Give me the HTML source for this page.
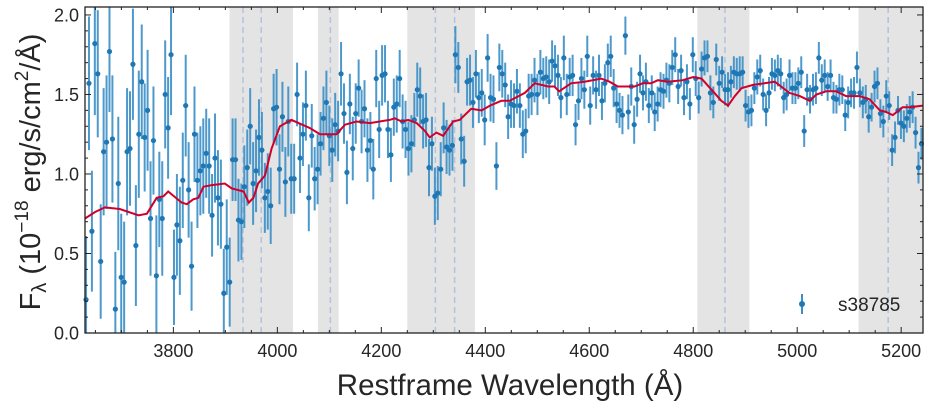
<!DOCTYPE html>
<html><head><meta charset="utf-8">
<style>
html,body{margin:0;padding:0;background:#fff;}
svg{display:block;font-family:"Liberation Sans",sans-serif;}
</style></head>
<body>
<svg id="chart" width="930" height="409" viewBox="0 0 930 409" xmlns="http://www.w3.org/2000/svg">
<g id="bands"></g>
<g id="lines"></g>
<g id="errs"></g>
<g id="dots"></g>
<path id="model" fill="none" stroke="#d0002a" stroke-width="2"/>
<g id="ticks"></g>
<rect x="85" y="7" width="838" height="326" fill="none" stroke="#222" stroke-width="1.3"/>
<g id="xlabels" font-size="18" fill="#262626" text-anchor="middle"></g>
<g id="ylabels" font-size="18" fill="#262626" text-anchor="end"></g>
<text x="510" y="395" font-size="29.5" fill="#262626" text-anchor="middle">Restframe Wavelength (Å)</text>
<text transform="translate(40,172) rotate(-90)" font-size="29" fill="#262626" text-anchor="middle">F<tspan font-size="20" dy="6">λ</tspan><tspan dy="-6"> (10</tspan><tspan font-size="19" dy="-12">−18</tspan><tspan dy="12"> erg/s/cm</tspan><tspan font-size="19" dy="-12">2</tspan><tspan dy="12">/Å)</tspan></text>
<g>
<line x1="802" y1="294" x2="802" y2="314" stroke="#3a8fc7" stroke-width="2"/>
<circle cx="802" cy="304" r="3" fill="#1f77b4"/>
<text x="838" y="311" font-size="19" fill="#262626">s38785</text>
</g>
</svg>
<script>
const xMin=3630, xMax=5242, yMin=0, yMax=2.05;
const waveStart=3632, waveEnd=5239;
const flux=[0.21,1.57,0.64,1.82,1.63,0.45,1.14,1.20,1.77,1.22,0.15,0.94,0.35,0.32,1.14,1.16,1.69,0.55,1.25,1.58,1.23,1.40,0.72,1.21,0.36,0.84,0.72,1.50,1.29,1.75,0.35,0.68,0.58,0.96,1.43,0.90,0.42,1.25,0.96,1.02,1.05,1.13,1.05,0.74,1.10,0.85,0.81,0.25,0.54,0.32,1.09,1.09,0.71,0.70,0.92,1.04,1.30,0.94,1.02,1.23,1.15,0.85,0.89,0.80,1.41,1.42,1.03,1.36,0.95,
1.33,0.97,0.97,1.50,1.10,1.25,1.43,0.85,1.24,0.97,1.03,1.19,1.35,1.45,1.24,1.15,1.31,1.27,1.63,1.38,1.01,1.44,1.16,1.38,1.54,1.33,1.41,1.15,1.21,1.03,1.60,1.28,1.62,1.63,1.28,1.12,1.42,1.44,1.60,1.33,1.28,1.16,1.19,1.34,1.53,1.49,1.33,1.34,1.04,1.19,0.86,0.88,1.03,1.29,1.17,1.15,1.18,1.75,1.67,1.22,1.08,1.58,1.59,1.45,1.63,1.48,1.51,1.34,1.73,1.48,1.47,1.05,
1.67,1.63,1.56,1.36,1.44,1.43,1.52,1.43,1.25,1.27,1.49,1.50,1.59,1.50,1.64,1.60,1.61,1.58,1.71,1.68,1.62,1.48,1.73,1.50,1.61,1.62,1.31,1.46,1.60,1.53,1.74,1.43,1.62,1.53,1.62,1.46,1.57,1.70,1.74,1.54,1.44,1.40,1.37,1.87,1.39,1.55,1.31,1.47,1.63,1.51,1.58,1.43,1.51,1.39,1.44,1.53,1.52,1.59,1.57,1.67,1.75,1.55,1.65,1.48,1.58,1.44,1.75,1.60,1.48,1.66,1.73,1.74,1.51,1.45,
1.72,1.57,1.64,1.53,1.53,1.58,1.64,1.63,1.63,1.64,1.43,1.39,1.40,1.54,1.61,1.65,1.50,1.40,1.51,1.63,1.62,1.65,1.63,1.48,1.50,1.62,1.54,1.54,1.57,1.64,1.27,1.53,1.47,1.53,1.54,1.73,1.59,1.62,1.55,1.62,1.48,1.47,1.53,1.53,1.37,1.45,1.51,1.51,1.67,1.51,1.45,1.47,1.36,1.42,1.55,1.57,1.38,1.33,1.49,1.43,1.15,1.23,1.40,1.32,1.30,1.35,1.39,1.42,1.26,1.04,1.19];
const err=[0.40,0.42,0.38,0.45,0.40,0.36,0.40,0.42,0.38,0.40,0.36,0.42,0.40,0.38,0.40,0.36,0.35,0.38,0.40,0.36,0.34,0.38,0.36,0.34,0.38,0.30,0.36,0.34,0.32,0.38,0.30,0.32,0.34,0.30,0.32,0.30,0.28,0.30,0.30,0.28,0.30,0.28,0.30,0.26,0.28,0.30,0.28,0.28,0.30,0.28,0.26,0.26,0.26,0.24,0.26,0.24,0.24,0.26,0.26,0.24,0.24,0.22,0.24,0.24,0.22,0.24,0.22,0.22,0.22,
0.22,0.22,0.22,0.20,0.22,0.20,0.22,0.21,0.20,0.20,0.22,0.20,0.20,0.20,0.19,0.20,0.20,0.19,0.20,0.19,0.20,0.19,0.20,0.19,0.18,0.20,0.18,0.20,0.18,0.19,0.18,0.18,0.19,0.18,0.18,0.17,0.18,0.18,0.18,0.17,0.18,0.17,0.18,0.17,0.17,0.18,0.17,0.17,0.18,0.17,0.18,0.17,0.17,0.16,0.17,0.16,0.16,0.18,0.16,0.16,0.16,0.15,0.16,0.16,0.15,0.16,0.15,0.16,0.15,0.15,0.15,0.15,
0.15,0.15,0.14,0.14,0.15,0.14,0.14,0.14,0.15,0.14,0.14,0.13,0.14,0.13,0.14,0.13,0.13,0.14,0.13,0.13,0.13,0.13,0.14,0.13,0.12,0.13,0.13,0.12,0.13,0.12,0.13,0.12,0.12,0.12,0.13,0.12,0.12,0.12,0.13,0.12,0.12,0.11,0.12,0.12,0.11,0.12,0.12,0.11,0.12,0.11,0.12,0.11,0.11,0.12,0.11,0.11,0.11,0.11,0.12,0.11,0.11,0.11,0.10,0.11,0.11,0.10,0.11,0.11,0.10,0.11,0.11,0.10,0.11,0.10,
0.10,0.11,0.10,0.10,0.11,0.10,0.10,0.10,0.11,0.10,0.10,0.10,0.10,0.10,0.11,0.10,0.10,0.10,0.10,0.10,0.10,0.10,0.10,0.10,0.10,0.10,0.10,0.10,0.10,0.10,0.10,0.10,0.09,0.10,0.10,0.10,0.10,0.10,0.09,0.10,0.10,0.09,0.10,0.09,0.10,0.10,0.09,0.10,0.10,0.09,0.10,0.09,0.10,0.09,0.10,0.10,0.09,0.10,0.10,0.09,0.10,0.10,0.09,0.10,0.10,0.09,0.10,0.10,0.10,0.10,0.10];
const modelWave=[3630,3649,3668,3697,3733,3749,3768,3781,3790,3816,3826,3838,3848,3858,3874,3899,3912,3935,3945,3954,3963,3976,3989,4005,4027,4062,4082,4114,4130,4152,4178,4216,4226,4239,4252,4268,4284,4293,4306,4319,4338,4351,4373,4393,4409,4431,4447,4476,4495,4521,4533,4542,4565,4591,4623,4639,4655,4687,4703,4719,4732,4751,4780,4800,4816,4838,4854,4867,4880,4893,4915,4937,4957,4969,4985,5005,5024,5037,5056,5075,5094,5120,5139,5159,5171,5184,5203,5216,5242];
const modelFlux=[0.72,0.76,0.79,0.78,0.74,0.75,0.85,0.86,0.89,0.82,0.81,0.84,0.85,0.92,0.93,0.94,0.91,0.89,0.82,0.85,0.94,0.99,1.16,1.30,1.34,1.29,1.25,1.25,1.31,1.33,1.32,1.34,1.35,1.33,1.34,1.32,1.27,1.23,1.26,1.24,1.33,1.34,1.41,1.40,1.43,1.46,1.46,1.51,1.57,1.55,1.55,1.52,1.57,1.58,1.60,1.58,1.55,1.55,1.57,1.57,1.59,1.58,1.59,1.61,1.60,1.52,1.46,1.43,1.49,1.54,1.56,1.57,1.58,1.55,1.51,1.49,1.46,1.50,1.52,1.52,1.49,1.49,1.47,1.40,1.39,1.37,1.42,1.42,1.43];
const bandStart=[3908,4078,4250,4808,5118];
const bandEnd=[4030,4118,4380,4908,5242];
const lineWave=[3934,3969,4102,4304,4341,4861,5175];
const xTicks=[3800,4000,4200,4400,4600,4800,5000,5200];
const yTicks=[0.0,0.5,1.0,1.5,2.0];

const L=85,R=923,T=7,B=333;
const X=v=>L+(v-xMin)/(xMax-xMin)*(R-L);
const Y=v=>B-(v-yMin)/(yMax-yMin)*(B-T);
const NS='http://www.w3.org/2000/svg';
function mk(tag,attrs,parent){const e=document.createElementNS(NS,tag);for(const k in attrs)e.setAttribute(k,attrs[k]);parent.appendChild(e);return e;}
const gB=document.getElementById('bands'),gL=document.getElementById('lines'),gE=document.getElementById('errs'),gD=document.getElementById('dots'),gT=document.getElementById('ticks'),gX=document.getElementById('xlabels'),gY=document.getElementById('ylabels');
for(let i=0;i<bandStart.length;i++){
  const r=mk('rect',{x:X(bandStart[i]),y:T,width:Math.min(X(bandEnd[i]),R)-X(bandStart[i]),height:B-T,fill:'#e4e4e4'},gB);
  
  
}
for(const w of lineWave){
  const l=mk('line',{x1:X(w),x2:X(w),y1:T,y2:B,stroke:'#b4c2dc','stroke-width':1.5,'stroke-dasharray':'6,4'},gL);
  
  
}
const n=flux.length, step=(waveEnd-waveStart)/(n-1);
for(let i=0;i<n;i++){
  const w=waveStart+i*step;
  const x=X(w);
  const y1=Math.max(T,Math.min(B,Y(flux[i]+err[i]))), y2=Math.max(T,Math.min(B,Y(flux[i]-err[i])));
  const e=mk('line',{x1:x,x2:x,y1:y1,y2:y2,stroke:'#3a8fc7','stroke-width':2,opacity:0.9},gE);
  
  
  if(flux[i]>=yMin&&flux[i]<=yMax){
    const c=mk('circle',{cx:x,cy:Y(flux[i]),r:2.6,fill:'#1f77b4'},gD);
    
    
  }
}
let d='';
for(let i=0;i<modelWave.length;i++){d+=(i?'L':'M')+X(modelWave[i]).toFixed(1)+','+Y(modelFlux[i]).toFixed(1);}
document.getElementById('model').setAttribute('d',d);
for(let v=3650;v<=5240;v+=50){
  const maj=xTicks.includes(v), len=maj?6:3;
  mk('line',{x1:X(v),x2:X(v),y1:B,y2:B-len,stroke:'#222'},gT);
  mk('line',{x1:X(v),x2:X(v),y1:T,y2:T+len,stroke:'#222'},gT);
}
for(const v of xTicks){
  const t=mk('text',{x:X(v),y:B+24},gX);t.textContent=v;
  
  
}
for(let k=0;k<=20;k++){
  const v=k/10, maj=k%5===0, len=maj?6:3;
  mk('line',{x1:L,x2:L+len,y1:Y(v),y2:Y(v),stroke:'#222'},gT);
  mk('line',{x1:R,x2:R-len,y1:Y(v),y2:Y(v),stroke:'#222'},gT);
}
for(const v of yTicks){
  const t=mk('text',{x:L-6,y:Y(v)+6.5},gY);t.textContent=v.toFixed(1);
  
  
}
</script>
</body></html>
